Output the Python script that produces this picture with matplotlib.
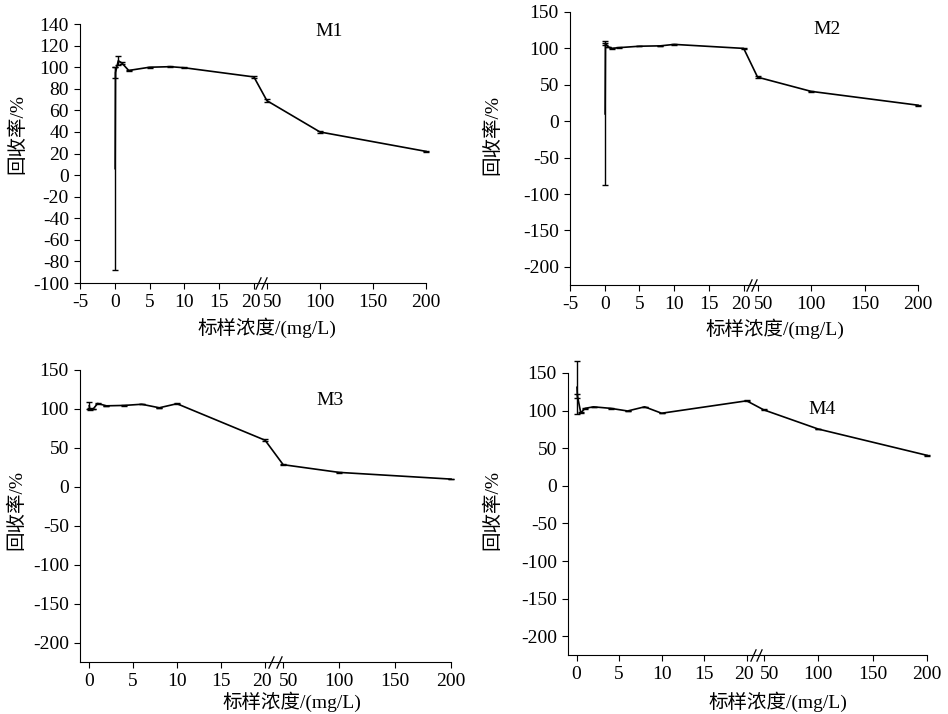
import numpy as np
import matplotlib
matplotlib.use("Agg")
import matplotlib.pyplot as plt
from matplotlib.transforms import ScaledTranslation

plt.rcParams["font.family"] = ["Liberation Serif", "Noto Sans CJK SC"]
plt.rcParams["axes.unicode_minus"] = False
plt.rcParams["font.size"] = 14

# concentrations (mg/L) and recovery (%)
m1_x = [0.05, 0.1, 0.5, 1, 2, 5, 8, 10, 20, 50, 100, 200]
m1_y = [6, 95, 106, 104, 97, 100, 100.5, 99.5, 91, 69, 40, 22]
m1_err = [94, 5, 4, 1, 0.5, 0.3, 0.3, 0.3, 0.6, 1.2, 0.5, 0.5]

m2_x = [0.05, 0.1, 0.5, 1, 2, 5, 8, 10, 20, 50, 100, 200]
m2_y = [10, 107, 102, 100, 101, 103, 103.5, 105.5, 100, 60.5, 41, 22]
m2_err = [97, 2.6, 0.5, 0.5, 0.3, 0.3, 0.3, 0.3, 0.6, 1.2, 0.5, 0.5]

m3_x = [0.05, 0.1, 0.5, 1, 2, 4, 6, 8, 10, 20, 50, 100, 200]
m3_y = [104, 100, 100, 107, 104, 104.5, 106, 101.5, 106.7, 59.8, 28.4, 18.5, 9.9]
m3_err = [4.5, 1, 0.5, 0.5, 0.3, 0.3, 0.3, 0.3, 0.5, 1.0, 0.5, 0.3, 0.3]

m4_x = [0.05, 0.1, 0.5, 1, 2, 4, 6, 8, 10, 20, 50, 100, 200]
m4_y = [131, 119.5, 97, 103, 105, 103, 99.5, 105, 96.5, 113, 101, 75.5, 40.5]
m4_err = [35, 2.5, 0.5, 0.5, 0.3, 0.3, 0.3, 0.3, 0.3, 0.6, 0.8, 0.5, 0.5]

xticks_wide = [-5, 0, 5, 10, 15, 20, 50, 100, 150, 200]
xticks_narrow = [0, 5, 10, 15, 20, 50, 100, 150, 200]
yticks_m1 = list(range(-100, 141, 20))
yticks_rest = list(range(-200, 151, 50))


def broken_scale(gap, ratio):
    # 0-20 linear, 20-50 squeezed into a small gap, 50-200 compressed
    def fwd(x):
        x = np.asarray(x, dtype=float)
        return np.where(x <= 20, x,
                        np.where(x < 50, 20 + gap * (x - 20) / 30,
                                 20 + gap + (x - 50) * ratio))

    def inv(u):
        u = np.asarray(u, dtype=float)
        return np.where(u <= 20, u,
                        np.where(u < 20 + gap, 20 + (u - 20) * 30 / gap,
                                 50 + (u - 20 - gap) / ratio))
    return fwd, inv


def draw(ax, x, y, err, name, xlim, xticks, ylim, yticks, scale,
         title_pos, ylab_pos, xlab_pos):
    ax.set_xscale("function", functions=broken_scale(*scale))
    ax.errorbar(x, y, yerr=err, color="black", lw=1.2, elinewidth=1.0,
                capsize=2.5, capthick=1.0)
    for art in ax.lines + ax.collections:
        art.set_clip_on(False)
    ax.set_xlim(*xlim)
    ax.set_ylim(*ylim)
    ax.set_xticks(xticks)
    ax.set_xticklabels([str(t) for t in xticks])
    ax.set_yticks(yticks)
    ax.spines["top"].set_visible(False)
    ax.spines["right"].set_visible(False)
    ax.tick_params(direction="out", length=4, width=0.8, labelsize=14)
    ax.tick_params(axis="x", pad=4)
    ax.tick_params(axis="y", pad=4)
    # push the crowded "20" and "50" labels slightly apart
    for lab in ax.get_xticklabels():
        if lab.get_text() == "20":
            lab.set_transform(lab.get_transform() + ScaledTranslation(-2 / 72, 0, ax.figure.dpi_scale_trans))
        if lab.get_text() == "50":
            lab.set_transform(lab.get_transform() + ScaledTranslation(4 / 72, 0, ax.figure.dpi_scale_trans))
    ax.set_ylabel("回收率/%", fontsize=14)
    ax.yaxis.set_label_coords(*ylab_pos)
    ax.set_xlabel("标样浓度/(mg/L)", fontsize=14)
    ax.xaxis.set_label_coords(*xlab_pos)
    ax.xaxis.label.set_va("top")
    ax.text(title_pos[0], title_pos[1], name, transform=ax.transAxes,
            ha="center", va="center", fontsize=14)
    # axis break marks
    ax.plot([30.5, 42.5], [0, 0], transform=ax.get_xaxis_transform(),
            marker=[(-0.45, -1), (0.45, 1)], markersize=9, ls="none",
            color="black", mew=0.9, clip_on=False)


fig = plt.figure(figsize=(9.48, 7.14), dpi=100)

ax1 = fig.add_axes([0.0844, 0.6036, 0.365, 0.3627])
draw(ax1, m1_x, m1_y, m1_err, "M1", (-5, 200), xticks_wide, (-100, 140),
     yticks_m1, (1.87, 0.1525), (0.72, 0.973), (-0.156, 0.575), (0.54, -0.135))

ax2 = fig.add_axes([0.6013, 0.6008, 0.3671, 0.3824])
draw(ax2, m2_x, m2_y, m2_err, "M2", (-5, 200), xticks_wide, (-225, 150),
     yticks_rest, (2.0, 0.154), (0.738, 0.936), (-0.198, 0.55), (0.589, -0.121))

ax3 = fig.add_axes([0.0844, 0.0728, 0.3914, 0.4090])
draw(ax3, m3_x, m3_y, m3_err, "M3", (-1, 200), xticks_narrow, (-225, 150),
     yticks_rest, (2.05, 0.127), (0.673, 0.897), (-0.148, 0.52), (0.571, -0.102))

ax4 = fig.add_axes([0.5992, 0.0826, 0.3787, 0.3950])
draw(ax4, m4_x, m4_y, m4_err, "M4", (-1, 200), xticks_narrow, (-225, 150),
     yticks_rest, (2.0, 0.128), (0.707, 0.872), (-0.187, 0.514), (0.585, -0.131))

fig.savefig("out.png", dpi=100)
plt.close(fig)
